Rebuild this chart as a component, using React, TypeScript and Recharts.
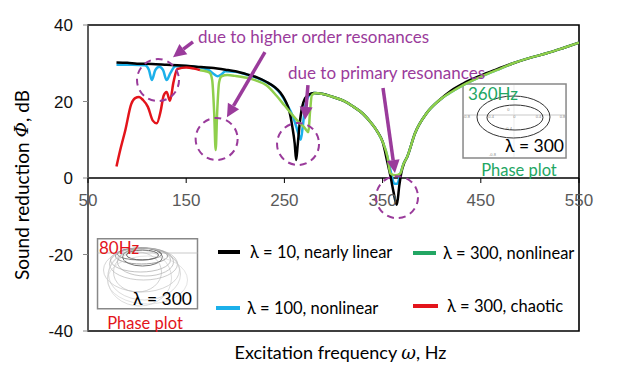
import React from 'react';
import { LineChart, Line, XAxis, YAxis, ReferenceLine, ReferenceArea, ReferenceDot, Legend } from 'recharts';

// ---- series data (frequency in Hz, sound reduction in dB) ----
const blackFreq = [79, 90, 100, 115, 130, 145, 160, 175, 190, 200, 212, 222, 232, 240, 246, 251, 255, 258, 260.5, 262, 263.5, 265.5, 268, 271, 275, 280, 288, 298, 310, 320, 330, 338, 345, 350, 355, 358, 361, 364.5, 367, 369, 372, 375, 383, 395, 408, 420, 432, 449, 466, 483, 500, 517, 534, 550];
const blackVal = [30.2, 30.1, 29.9, 29.8, 29.6, 29.4, 29.1, 28.8, 28.3, 27.9, 27.1, 26.3, 25.1, 23.8, 22.3, 20.2, 17.5, 13.5, 9, 4.7, 8.5, 14, 18.5, 20.8, 21.8, 22.2, 22.0, 21.3, 20.2, 18.7, 16.8, 14.5, 12, 9.5, 4, 0.5, -3.5, -7, -2, 1.3, 4, 5.5, 11.7, 17, 20.4, 22.9, 24.7, 26.7, 28.4, 30, 31.4, 32.6, 34, 35.4];

const blueFreq = [79, 95, 108, 112, 115, 118.5, 122.5, 126.5, 130, 134, 139, 150, 165, 173, 178, 182, 186, 190, 200, 212, 222, 232, 240, 247, 253, 258, 262, 265, 266.6, 268.5, 271, 275, 280, 288, 298, 310, 320, 330, 338, 345, 350, 355, 358, 362, 365, 368, 371, 375, 383, 395, 408, 420, 432, 449, 466, 483, 500, 517, 534, 550];
const blueVal = [29.6, 29.6, 29.5, 28.3, 25.6, 28.2, 29.1, 28.2, 25.6, 27.5, 29.2, 29.3, 28.9, 28.2, 27.2, 26.6, 27.1, 27.9, 27.8, 27.0, 26.2, 25.0, 23.7, 21.7, 19, 16.5, 13.5, 11, 10, 13, 18.5, 21.5, 22.2, 22.0, 21.3, 20.2, 18.7, 16.8, 14.5, 12, 9.5, 5.5, 2, -1.5, -1.5, 1, 3.5, 5.5, 11.7, 17, 20.4, 22.5, 24.3, 26.4, 28.2, 30, 31.4, 32.6, 34, 35.4];

const greenFreq = [164, 170, 174, 176.5, 178.5, 180, 181.5, 183.5, 186, 192, 200, 212, 222, 232, 242, 250, 258, 265, 270, 273, 274.5, 276, 278, 282, 288, 298, 310, 320, 330, 338, 345, 350, 355, 358, 363, 368, 371, 375, 383, 395, 408, 420, 432, 449, 466, 483, 500, 517, 534, 550];
const greenVal = [28.2, 27.9, 27.5, 25.5, 17, 7.3, 17, 25, 26.6, 26.9, 26.7, 26.2, 25.4, 24.2, 21.5, 19, 16.5, 14.5, 13.3, 12.3, 12, 17, 21.7, 22.2, 22.0, 21.3, 20.2, 18.7, 16.8, 14.5, 12, 9.5, 5.5, 1.2, 0.7, 1.2, 3.5, 5.5, 11.7, 17, 20.4, 22.5, 24.3, 26.4, 28.2, 30, 31.4, 32.6, 34, 35.4];

const redFreq = [79, 83, 88, 94, 98, 102, 106, 111, 116, 120, 124, 127, 130, 133.5, 137, 141, 150, 158, 164];
const redVal = [3, 7.5, 12.5, 19.3, 20.9, 21.2, 20.4, 18.6, 15, 14.3, 17.5, 21.5, 22.5, 20.2, 25, 28.5, 28.9, 28.6, 28.2];

const xTicks = [50, 150, 250, 350, 450, 550];
const yTicks = [-40, -20, 0, 20, 40];

const legendLabels = ['λ = 10, nearly linear', 'λ = 300, nonlinear', 'λ = 100, nonlinear', 'λ = 300, chaotic'];

// annotation anchors (data coordinates)
const circleCenters = [
  { f: 121.3, v: 25.6 },
  { f: 181, v: 10.2 },
  { f: 263.9, v: 8.9 },
  { f: 364.7, v: -5.0 },
];
const arrows = [
  { f1: 156.9, v1: 35.6, f2: 136.6, v2: 31.6 },
  { f1: 230.2, v1: 32.9, f2: 191.5, v2: 15.9 },
  { f1: 274, v1: 24.3, f2: 271, v2: 15.2 },
  { f1: 350.4, v1: 23.5, f2: 362.6, v2: 1.3 },
];
const notes = [
  { f: 162, v: 36.9, text: 'due to higher order resonances' },
  { f: 253.7, v: 27.7, text: 'due to primary resonances' },
];
const inset360 = { f1: 431.9, f2: 536.8, v1: 5.2, v2: 24.6, cf: 484.3, cv: 14.9 };
const inset80 = { f1: 59.7, f2: 161.5, v1: -34.2, v2: -15.9, cf: 110.6, cv: -25.1 };

const zip = (fs: number[], vs: number[]) => fs.map((f, i) => ({ f, v: vs[i] }));
const blackData = zip(blackFreq, blackVal);
const blueData = zip(blueFreq, blueVal);
const greenData = zip(greenFreq, greenVal);
const redData = zip(redFreq, redVal);

const PURPLE = '#9a3b9b';
const LINE_GREEN = '#8fcf4c';
const TEXT_GREEN = '#22a663';
const BLUE = '#1cb0ea';
const RED = '#e3141b';
const FONT = 'Lato, "Open Sans", sans-serif';
const TICKFONT = '"Liberation Sans", Arial, sans-serif';

const XTickShape = (props: any) => {
  const { cx, cy, value } = props;
  return (
    <g>
      <line x1={cx} y1={cy} x2={cx} y2={cy + 5} stroke="#000" strokeWidth={1} />
      <text x={cx} y={cy + 28} textAnchor="middle" fontSize={17} fontFamily={TICKFONT} fill="#595959">{value}</text>
    </g>
  );
};

const ArrowShape = (props: any) => {
  const { x1, y1, x2, y2 } = props;
  if ([x1, y1, x2, y2].some((n: any) => typeof n !== 'number' || isNaN(n))) return <g />;
  const dx = x2 - x1, dy = y2 - y1;
  const len = Math.sqrt(dx * dx + dy * dy) || 1;
  const ux = dx / len, uy = dy / len;
  const hl = 13, hw = 6.5;
  const bx = x2 - ux * hl, by = y2 - uy * hl;
  const px = -uy, py = ux;
  return (
    <g>
      <line x1={x1} y1={y1} x2={bx} y2={by} stroke={PURPLE} strokeWidth={3.5} />
      <polygon points={`${x2},${y2} ${bx + px * hw},${by + py * hw} ${bx - px * hw},${by - py * hw}`} fill={PURPLE} />
    </g>
  );
};

const NoteShape = (props: any) => {
  const { cx, cy, text } = props;
  return (
    <text x={cx} y={cy} dominantBaseline="central" fontSize={17} fontFamily={FONT} fill={PURPLE}>{text}</text>
  );
};

const Inset360Shape = (props: any) => {
  const { cx, cy } = props;
  const tick = (dx: number, dy: number, t: string) => (
    <text x={cx + dx} y={cy + dy} fontSize={4} fill="#888" textAnchor="middle" fontFamily={TICKFONT}>{t}</text>
  );
  return (
    <g>
      <line x1={cx - 51} y1={cy - 6} x2={cx + 51} y2={cy - 6} stroke="#bbb" strokeWidth={0.8} />
      <line x1={cx - 0.5} y1={cy - 36} x2={cx - 0.5} y2={cy + 36} stroke="#ddd" strokeWidth={0.6} />
      {tick(-48, -3, '-0.8')}{tick(-24, -3, '-0.4')}{tick(0, -3, '0')}{tick(24, -3, '0.4')}{tick(48, -3, '0.8')}
      {tick(-6, -10, '0')}{tick(-6, 9, '-0.4')}{tick(-22, 35, '-0.8')}
      <ellipse cx={cx - 1} cy={cy - 4} rx={36.5} ry={21} fill="none" stroke="#333" strokeWidth={1} />
      <ellipse cx={cx + 0.5} cy={cy - 3.5} rx={28} ry={12.5} fill="none" stroke="#333" strokeWidth={1} />
      <text x={cx - 46.5} y={cy - 28} dominantBaseline="central" fontSize={17} fontFamily={FONT} fill={TEXT_GREEN}>360Hz</text>
      <text x={cx + 49.5} y={cy + 24} dominantBaseline="central" textAnchor="end" fontSize={17.5} fontFamily={FONT} fill="#000">λ = 300</text>
      <text x={cx + 4.5} y={cy + 48.5} dominantBaseline="central" textAnchor="middle" fontSize={16.5} fontFamily={FONT} fill={TEXT_GREEN}>Phase plot</text>
    </g>
  );
};

const Inset80Shape = (props: any) => {
  const { cx, cy } = props;
  const loops = [
    [-8, -20, 22, 6, '#777', 0.9], [-6, -18, 26, 8, '#888', 0.8], [-5, -17, 20, 9, '#666', 0.9],
    [-7, -14, 30, 12, '#999', 0.6], [-4, -10, 34, 16, '#aaa', 0.6], [-6, -4, 38, 22, '#bbb', 0.6],
    [-3, 0, 36, 26, '#c4c4c4', 0.6], [-8, 4, 32, 28, '#c8c8c8', 0.6], [-2, -12, 28, 14, '#a0a0a0', 0.6],
    [-10, -2, 24, 20, '#b5b5b5', 0.6], [-5, -19, 16, 5, '#666', 1], [0, 6, 40, 24, '#d0d0d0', 0.6],
  ];
  return (
    <g>
      <line x1={cx - 50} y1={cy - 21} x2={cx + 50} y2={cy - 21} stroke="#bbb" strokeWidth={0.8} />
      {loops.map((l: any, i: number) => (
        <ellipse key={i} cx={cx + l[0]} cy={cy + l[1]} rx={l[2]} ry={l[3]} fill="none" stroke={l[4]} strokeWidth={l[5]} />
      ))}
      <text x={cx - 48.5} y={cy - 27} dominantBaseline="central" fontSize={17} fontFamily={FONT} fill={RED}>80Hz</text>
      <text x={cx + 44.5} y={cy + 24} dominantBaseline="central" textAnchor="end" fontSize={17.5} fontFamily={FONT} fill="#000">λ = 300</text>
      <text x={cx - 2.5} y={cy + 48.5} dominantBaseline="central" textAnchor="middle" fontSize={16.5} fontFamily={FONT} fill={RED}>Phase plot</text>
    </g>
  );
};

const legendItems = [
  { color: '#000', left: 218, top: 252, sw: 22, gap: 10 },
  { color: TEXT_GREEN, left: 413, top: 253, sw: 23, gap: 7 },
  { color: BLUE, left: 216, top: 308, sw: 24, gap: 7 },
  { color: RED, left: 413, top: 306, sw: 25, gap: 9 },
];

const LegendContent = () => (
  <div style={{ position: 'relative', width: 0, height: 0 }}>
    {legendItems.map((it, i) => (
      <div key={i} style={{ position: 'absolute', left: it.left, top: it.top, transform: 'translateY(-50%)', display: 'flex', alignItems: 'center', whiteSpace: 'nowrap' }}>
        <span style={{ display: 'inline-block', width: it.sw, height: 4, background: it.color, marginRight: it.gap }} />
        <span style={{ fontFamily: FONT, fontSize: 16.5, color: '#000' }}>{legendLabels[i]}</span>
      </div>
    ))}
  </div>
);

const YTitle = (props: any) => {
  const vb = props.viewBox || {};
  const x = 21;
  const y = (vb.y || 25) + (vb.height || 306) / 2 + 7;
  return (
    <text x={x} y={y} transform={`rotate(-90 ${x} ${y})`} textAnchor="middle" dominantBaseline="central" fontSize={19} fontFamily={FONT} fill="#000">
      Sound reduction <tspan fontStyle="italic" fontFamily="'DejaVu Serif', serif">Φ</tspan>, dB
    </text>
  );
};

const XTitle = (props: any) => {
  const vb = props.viewBox || {};
  const x = (vb.x || 88) + (vb.width || 491) / 2 + 7;
  return (
    <text x={x} y={352} textAnchor="middle" dominantBaseline="central" fontSize={18} fontFamily={FONT} fill="#000">
      Excitation frequency <tspan fontStyle="italic" fontFamily="'DejaVu Serif', serif">ω</tspan>, Hz
    </text>
  );
};

export default function App() {
  return (
    <div style={{ position: 'absolute', left: 0, top: 0, width: 622, height: 372, background: '#fff' }}>
      <LineChart width={622} height={372} margin={{ top: 25, right: 43, bottom: 0, left: 28 }}>
        <XAxis dataKey="f" type="number" domain={[50, 550]} ticks={xTicks} tick={false} axisLine={false} tickLine={false} height={41} allowDataOverflow label={<XTitle />} />
        <YAxis type="number" domain={[-40, 40]} ticks={yTicks} width={60} tickSize={5} tickMargin={10}
          tick={{ fill: '#111', fontSize: 17, fontFamily: TICKFONT }} tickLine={{ stroke: '#888' }} axisLine={{ stroke: '#888' }} label={<YTitle />} />
        <ReferenceArea x1={inset360.f1} x2={inset360.f2} y1={inset360.v1} y2={inset360.v2} fill="#fff" fillOpacity={1} stroke="#888" strokeWidth={1.5} />
        <ReferenceArea x1={inset80.f1} x2={inset80.f2} y1={inset80.v1} y2={inset80.v2} fill="#fff" fillOpacity={1} stroke="#888" strokeWidth={1.5} />
        <ReferenceDot x={inset360.cf} y={inset360.cv} r={1} shape={(p: any) => <Inset360Shape {...p} />} />
        <ReferenceDot x={inset80.cf} y={inset80.cv} r={1} shape={(p: any) => <Inset80Shape {...p} />} />
        <ReferenceLine y={0} stroke="#000" strokeWidth={1.3} />
        {xTicks.map((t) => (
          <ReferenceDot key={'xt' + t} x={t} y={0} r={1} shape={(p: any) => <XTickShape {...p} value={t} />} />
        ))}
        <Line data={blueData} dataKey="v" type="monotone" dot={false} stroke={BLUE} strokeWidth={2.5} isAnimationActive={false} />
        <Line data={blackData} dataKey="v" type="monotone" dot={false} stroke="#000" strokeWidth={2.5} isAnimationActive={false} />
        <Line data={greenData} dataKey="v" type="monotone" dot={false} stroke={LINE_GREEN} strokeWidth={2.5} isAnimationActive={false} />
        <Line data={redData} dataKey="v" type="monotone" dot={false} stroke={RED} strokeWidth={2.5} isAnimationActive={false} />
        <ReferenceArea x1={50} x2={550} y1={-40} y2={40} fill="none" stroke="#000" strokeWidth={1.6} />
        {circleCenters.map((c, i) => (
          <ReferenceDot key={'c' + i} x={c.f} y={c.v} r={21} fill="none" stroke={PURPLE} strokeWidth={2} strokeDasharray="7 5" />
        ))}
        {arrows.map((a, i) => (
          <ReferenceLine key={'a' + i} segment={[{ x: a.f1, y: a.v1 }, { x: a.f2, y: a.v2 }]} shape={(p: any) => <ArrowShape {...p} />} />
        ))}
        {notes.map((n, i) => (
          <ReferenceDot key={'n' + i} x={n.f} y={n.v} r={1} shape={(p: any) => <NoteShape {...p} text={n.text} />} />
        ))}
        <Legend content={<LegendContent />} verticalAlign="top" align="left" wrapperStyle={{ position: 'absolute', left: 0, top: 0, width: 0, height: 0, overflow: 'visible', pointerEvents: 'none' }} />
      </LineChart>
    </div>
  );
}
